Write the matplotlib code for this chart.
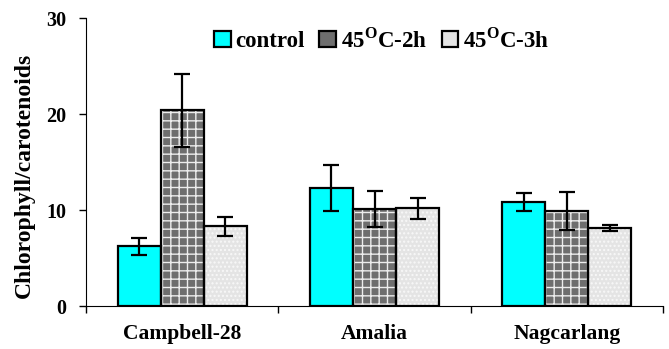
import numpy as np
import matplotlib.pyplot as plt
from matplotlib.patches import Patch

plt.rcParams['font.family'] = ['Liberation Serif', 'DejaVu Serif']
plt.rcParams['font.weight'] = 'bold'
plt.rcParams['mathtext.fontset'] = 'custom'
plt.rcParams['mathtext.rm'] = 'Liberation Serif:bold'
plt.rcParams['mathtext.bf'] = 'Liberation Serif:bold'

# data
cultivars = ['Campbell-28', 'Amalia', 'Nagcarlang']
series = ['control', '45$^{\\rm O}$C-2h', '45$^{\\rm O}$C-3h']
control = [6.2, 12.3, 10.8]
heat_2h = [20.4, 10.1, 9.9]
heat_3h = [8.3, 10.2, 8.1]
err_control = [0.9, 2.4, 0.95]
err_2h = [3.8, 1.9, 2.0]
err_3h = [1.0, 1.1, 0.3]

faces = ['#00ffff', '#6e6e6e', '#e4e4e4']
hatches = [None, '++', '....']
hatch_cols = [None, '#ededed', '#f8f8f8']

fig = plt.figure(figsize=(6.69, 3.49), dpi=100)
ax = fig.add_axes([86 / 669, 43 / 349, (663 - 86) / 669, (306 - 18) / 349])

x = np.arange(len(cultivars))
width = 0.224
vals = [control, heat_2h, heat_3h]
errs = [err_control, err_2h, err_3h]

for i, (v, e) in enumerate(zip(vals, errs)):
    pos = x + (i - 1) * width
    ax.bar(pos, v, width, color=faces[i], edgecolor='none', zorder=2)
    if hatches[i]:
        # hatch drawn in a light colour on top, outline drawn separately
        ax.bar(pos, v, width, color='none', edgecolor=hatch_cols[i],
               hatch=hatches[i], linewidth=0, zorder=3)
    ax.bar(pos, v, width, color='none', edgecolor='black', linewidth=1.6, zorder=4)
    ax.errorbar(pos, v, yerr=e, fmt='none', ecolor='black', elinewidth=1.6,
                capsize=6, capthick=1.6, zorder=5)

ax.set_xlim(-0.5, 2.5)
ax.set_ylim(0, 30)
ax.set_yticks([0, 10, 20, 30])
ax.set_xticks(x)
ax.set_xticklabels(cultivars)
ax.set_xticks([-0.5, 0.5, 1.5, 2.5], minor=True)
ax.tick_params(axis='x', which='major', length=0, pad=13, labelsize=15.5)
ax.tick_params(axis='x', which='minor', length=5, width=1)
ax.tick_params(axis='y', length=5, width=1, labelsize=14.5, pad=9)
ax.set_ylabel('Chlorophyll/carotenoids', fontsize=17, fontweight='bold')
ax.yaxis.set_label_coords(-0.0885, 0.455)
for s in ['top', 'right']:
    ax.spines[s].set_visible(False)

handles = [Patch(facecolor=faces[i], edgecolor='black', linewidth=1.6) for i in range(3)]
fig.legend(handles, series, loc='center left', bbox_to_anchor=(214 / 669, 1 - 40 / 349),
           ncol=3, frameon=False, fontsize=16.5, handlelength=0.72, handleheight=0.72,
           handletextpad=0.2, columnspacing=0.65, borderpad=0, borderaxespad=0)

fig.savefig('out.png', dpi=100)
